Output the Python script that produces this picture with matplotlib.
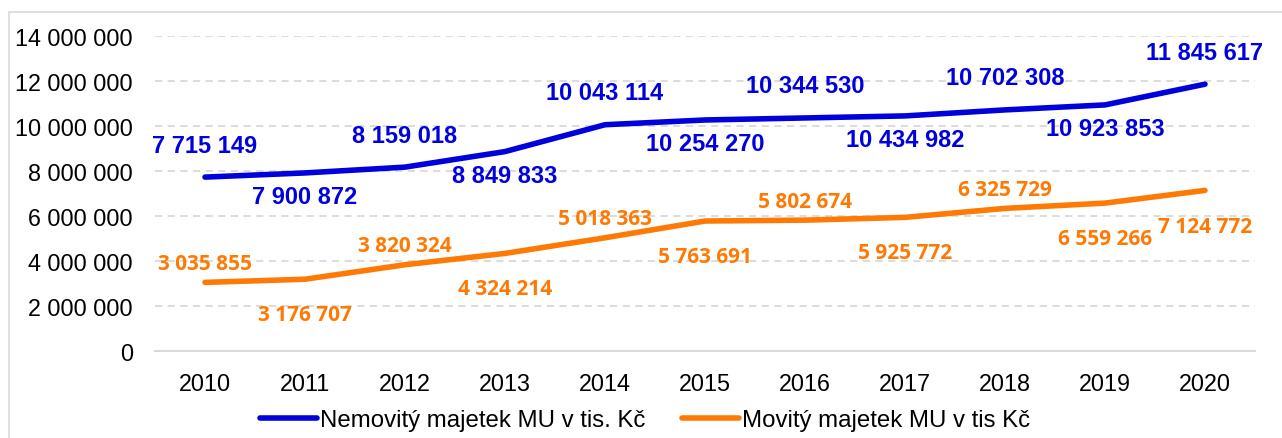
import matplotlib
matplotlib.use('Agg')
import matplotlib.pyplot as plt
from matplotlib.patches import Rectangle
from matplotlib.ticker import FuncFormatter

years = ['2010', '2011', '2012', '2013', '2014', '2015', '2016', '2017', '2018', '2019', '2020']
nemovity = [7715149, 7900872, 8159018, 8849833, 10043114, 10254270,
            10344530, 10434982, 10702308, 10923853, 11845617]
movity = [3035855, 3176707, 3820324, 4324214, 5018363, 5763691,
          5802674, 5925772, 6325729, 6559266, 7124772]
legend_labels = ['Nemovitý majetek MU v tis. Kč', 'Movitý majetek MU v tis Kč']
yticks = [0, 2000000, 4000000, 6000000, 8000000, 10000000, 12000000, 14000000]

BLUE = '#0000DC'
ORANGE = '#FF7A05'
GRID = '#D9D9D9'


def fmt(v):
    return f'{int(v):,}'.replace(',', ' ')


fig = plt.figure(figsize=(12.82, 4.39), dpi=100)
ax = fig.add_axes([155 / 1282, 1 - 351.7 / 439, 1100 / 1282, 315 / 439])

# light frame around the whole chart
fig.patches.append(Rectangle((9 / 1282, -0.1), 1.2, 1 - 13 / 439 + 0.1,
                             transform=fig.transFigure, fill=False,
                             edgecolor='#D9D9D9', linewidth=1.2))

x = list(range(len(years)))
ax.plot(x, nemovity, color=BLUE, lw=4, solid_capstyle='round',
        solid_joinstyle='round', label=legend_labels[0])
ax.plot(x, movity, color=ORANGE, lw=4, solid_capstyle='round',
        solid_joinstyle='round', label=legend_labels[1])

# data labels alternate above / below the line
for i, v in enumerate(nemovity):
    dy = 32 if i % 2 == 0 else -24
    ax.annotate(fmt(v), (i, v), xytext=(0, dy), textcoords='offset pixels',
                ha='center', va='center', color=BLUE, fontsize=17,
                fontweight='bold', family='Liberation Sans')
for i, v in enumerate(movity):
    dy = 19 if i % 2 == 0 else -35
    if i == len(movity) - 1:
        dy = -36
    ax.annotate(fmt(v), (i, v), xytext=(0, dy), textcoords='offset pixels',
                ha='center', va='center', color=ORANGE, fontsize=15,
                fontweight='bold', family='Open Sans')

ax.set_xlim(-0.5, len(years) - 0.5)
ax.set_ylim(0, 14000000)
ax.set_xticks(x)
ax.set_xticklabels(years)
ax.set_yticks(yticks)
ax.yaxis.set_major_formatter(FuncFormatter(lambda v, p: fmt(v)))
ax.tick_params(length=0, labelsize=16.8, labelcolor='#000000')
ax.tick_params(axis='x', pad=15)
ax.tick_params(axis='y', pad=16)
for lab in ax.get_xticklabels() + ax.get_yticklabels():
    lab.set_family('Liberation Sans')

ax.grid(axis='y', color=GRID, linestyle=(0, (4, 3)), linewidth=1.3)
ax.set_axisbelow(True)
for s in ['top', 'right', 'left']:
    ax.spines[s].set_visible(False)
ax.spines['bottom'].set_color(GRID)
ax.spines['bottom'].set_linewidth(1.5)

fig.legend(loc='center', bbox_to_anchor=(645 / 1282, 1 - 421 / 439), ncol=2,
           frameon=False, prop={'family': 'Liberation Sans', 'size': 17.3},
           handlelength=2.4, handletextpad=0.12, columnspacing=1.5,
           borderaxespad=0)

fig.savefig('out.png', dpi=100)
